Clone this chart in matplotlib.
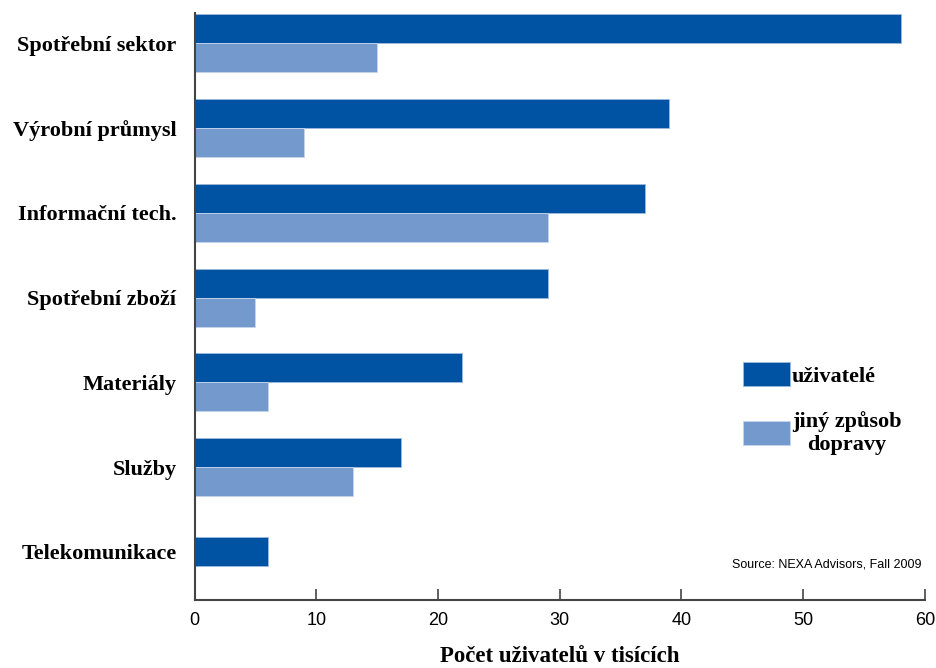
import matplotlib
matplotlib.use('Agg')
import matplotlib.pyplot as plt
import numpy as np

categories = ['Spotřební sektor', 'Výrobní průmysl', 'Informační tech.', 'Spotřební zboží',
              'Materiály', 'Služby', 'Telekomunikace']
users = [58, 39, 37, 29, 22, 17, 6]
other = [15, 9, 29, 5, 6, 13, 0]
series_names = ['uživatelé', 'jiný způsob\ndopravy']
xticks = [0, 10, 20, 30, 40, 50, 60]

dark = '#0052a2'
light = '#7499cc'
serif = ['Liberation Serif', 'DejaVu Serif']
sans = ['Liberation Sans Narrow', 'Liberation Sans', 'DejaVu Sans']

fig = plt.figure(figsize=(9.36, 6.68), dpi=100)
ax = fig.add_axes([0.2078, 0.1018, 0.7804, 0.8787])

h = 0.342
y = np.arange(len(categories))
for i in range(len(categories)):
    if other[i] > 0:
        yd, yl = y[i] - h / 2, y[i] + h / 2
    else:
        yd, yl = y[i], None
    ax.barh(yd, users[i], height=h, color=dark, edgecolor='#9fb8dc', linewidth=0.6,
            label=series_names[0] if i == 0 else None)
    if yl is not None:
        ax.barh(yl, other[i], height=h, color=light, edgecolor='#c5d5ec', linewidth=0.6,
                label=series_names[1] if i == 0 else None)

ax.set_ylim(len(categories) - 1 + 0.566, -0.354)
ax.set_xlim(0, 60)
ax.set_yticks(y)
ax.set_yticklabels(categories, fontfamily=serif, fontsize=16, fontweight='bold')
ax.set_xticks(xticks)
ax.set_xticklabels([str(t) for t in xticks], fontfamily=sans, fontsize=13)
ax.tick_params(axis='y', length=0, pad=13)
ax.tick_params(axis='x', direction='in', length=8, width=1.2, color='#444444', pad=9)

for s in ['top', 'right']:
    ax.spines[s].set_visible(False)
for s in ['left', 'bottom']:
    ax.spines[s].set_color('#444444')
    ax.spines[s].set_linewidth(1.5)

ax.set_xlabel('Počet uživatelů v tisících', fontfamily=serif, fontsize=16.5,
              fontweight='bold', labelpad=12)

ax.text(0.995, 0.06, 'Source: NEXA Advisors, Fall 2009', transform=ax.transAxes,
        ha='right', va='center', fontfamily=sans, fontsize=9)

leg = ax.legend(loc='upper left', bbox_to_anchor=(743 / 936, 1 - 362 / 668),
                bbox_transform=fig.transFigure, frameon=False,
                prop={'family': serif, 'size': 16, 'weight': 'bold'},
                handlelength=2.1, handleheight=1.3, handletextpad=0.1, labelspacing=1.1,
                borderpad=0, borderaxespad=0)
for t in leg.get_texts():
    t.set_multialignment('center')

fig.savefig('out.png', dpi=100)
